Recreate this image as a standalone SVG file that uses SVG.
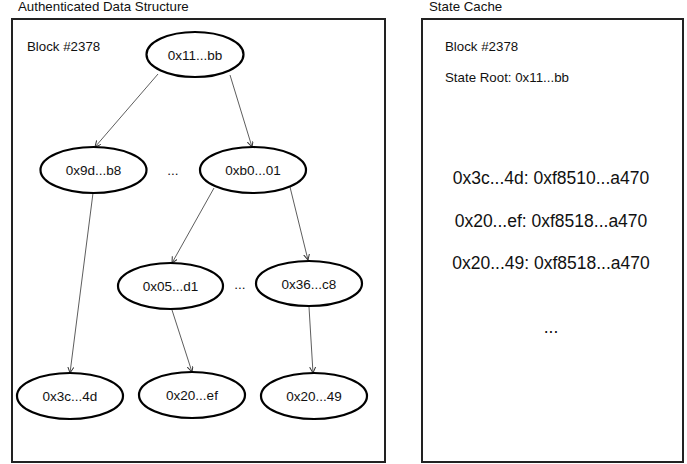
<svg xmlns="http://www.w3.org/2000/svg" width="687" height="464" viewBox="0 0 687 464">
<style>
text{font-family:"Liberation Sans",Arial,sans-serif;fill:#111}
.t{font-size:13.3px}
.n{font-size:13.5px;text-anchor:middle}
.big{font-size:17.5px;text-anchor:middle}
.box{fill:none;stroke:#222;stroke-width:2}
ellipse{fill:#fff;stroke:#000;stroke-width:2.2}
.c line{stroke:#333;stroke-width:0.8;marker-end:url(#ah)}
</style>
<defs>
<marker id="ah" markerWidth="8" markerHeight="8" refX="6" refY="3" orient="auto" markerUnits="userSpaceOnUse">
<path d="M0,0 L6,3 L0,6" fill="none" stroke="#333" stroke-width="1"/>
</marker>
</defs>
<rect width="687" height="464" fill="#fff"/>
<g id="ads">
<text class="t" x="18" y="11">Authenticated Data Structure</text>
<rect class="box" x="12" y="19" width="373" height="443"/>
<text class="t" x="27" y="51">Block #2378</text>
</g>
<g id="cache">
<text class="t" x="429" y="11">State Cache</text>
<rect class="box" x="422" y="19" width="261" height="443"/>
<text class="t" x="445" y="51">Block #2378</text>
<text class="t" x="445" y="82">State Root: 0x11...bb</text>
<text class="big" x="551" y="184">0x3c...4d: 0xf8510...a470</text>
<text class="big" x="551" y="227">0x20...ef: 0xf8518...a470</text>
<text class="big" x="551" y="269">0x20...49: 0xf8518...a470</text>
<text class="big" x="551" y="333">...</text>
</g>
<g class="c" id="connectors">
<line x1="158" y1="74" x2="95" y2="147"/>
<line x1="230" y1="75" x2="252" y2="147"/>
<line x1="93" y1="193" x2="70" y2="373"/>
<line x1="214" y1="188" x2="172" y2="263"/>
<line x1="290" y1="187" x2="308" y2="260"/>
<line x1="172" y1="310" x2="192" y2="372"/>
<line x1="309" y1="307" x2="313" y2="373"/>
</g>
<g id="root"><ellipse cx="195" cy="54.5" rx="48.5" ry="22.5"/><text class="n" x="195" y="59.5">0x11...bb</text></g>
<g id="n9d"><ellipse cx="93.5" cy="170" rx="53" ry="23"/><text class="n" x="93.5" y="175">0x9d...b8</text></g>
<text class="n" x="173" y="175">...</text>
<g id="nb0"><ellipse cx="253" cy="170" rx="53" ry="23"/><text class="n" x="253" y="175">0xb0...01</text></g>
<g id="n05"><ellipse cx="170.5" cy="286" rx="52.5" ry="23"/><text class="n" x="170.5" y="291">0x05...d1</text></g>
<text class="n" x="240" y="289">...</text>
<g id="n36"><ellipse cx="309" cy="283.5" rx="53" ry="22.5"/><text class="n" x="309" y="288.5">0x36...c8</text></g>
<g id="n3c"><ellipse cx="70" cy="396" rx="53" ry="23"/><text class="n" x="70" y="401">0x3c...4d</text></g>
<g id="n20ef"><ellipse cx="192" cy="395" rx="53" ry="23"/><text class="n" x="192" y="400">0x20...ef</text></g>
<g id="n2049"><ellipse cx="314" cy="396" rx="53" ry="23"/><text class="n" x="314" y="401">0x20...49</text></g>
</svg>
